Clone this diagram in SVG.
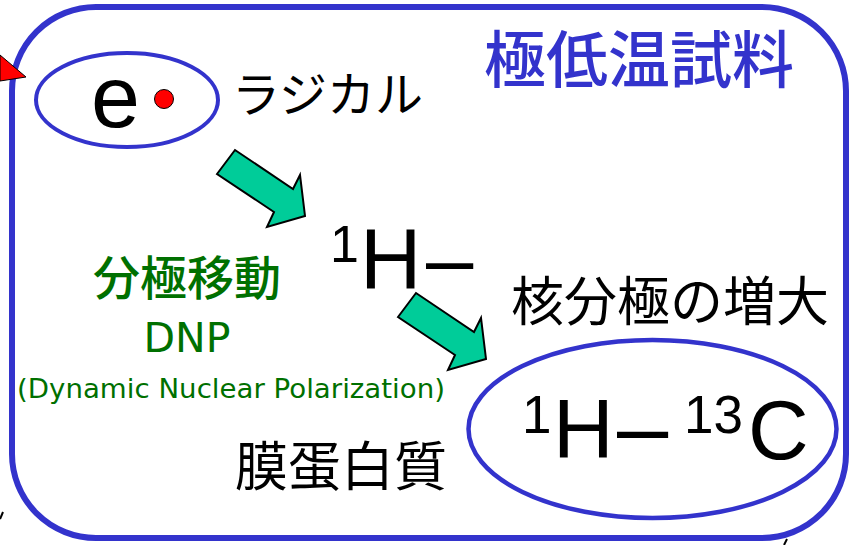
<svg xmlns="http://www.w3.org/2000/svg" width="849" height="545" viewBox="0 0 849 545">
<style>
.blue{fill:none;stroke:#3333CC}
.cjk{font-family:"Noto Sans CJK JP","Noto Sans CJK SC",sans-serif}
.lat{font-family:"Liberation Sans",Arial,sans-serif;fill:#000}
.grn{fill:#007000}
.arrow{fill:#00CC99;stroke:#000;stroke-width:2;stroke-linejoin:miter}
</style>
<defs>
<polygon id="arr" class="arrow" points="217,174 235,150 293,189 300,175 305,216 267,227 274,212"/>
</defs>
<rect width="849" height="545" fill="#fff"/>
<g id="sample">
<rect class="blue" x="12" y="7" width="834" height="531" rx="84" ry="84" stroke-width="6"/>
<text class="cjk" x="484" y="83" font-size="62" font-weight="500" fill="#3333CC">極低温試料</text>
</g>
<g id="radical">
<ellipse class="blue" cx="127" cy="100" rx="91" ry="47" stroke-width="4"/>
<text class="lat" x="91" y="127" font-size="88">e</text>
<circle cx="164" cy="99" r="9.5" fill="#FF0000" stroke="#000" stroke-width="1"/>
<text class="cjk" x="232" y="112" font-size="48" fill="#000">ラジカル</text>
</g>
<g id="h1">
<text class="lat" font-size="85"><tspan x="330" y="262" font-size="52">1</tspan><tspan x="360" y="288">H</tspan><tspan x="426" y="288">–</tspan></text>
</g>
<g id="dnp">
<text class="cjk grn" x="187" y="295" font-size="47" font-weight="500" text-anchor="middle">分極移動</text>
<text font-family="'DejaVu Sans',Verdana,sans-serif" class="grn" x="187" y="352" font-size="41" text-anchor="middle">DNP</text>
<text font-family="'DejaVu Sans',Verdana,sans-serif" class="grn" x="17" y="398" font-size="26" textLength="428" lengthAdjust="spacingAndGlyphs">(Dynamic Nuclear Polarization)</text>
</g>
<g id="enhance">
<text class="cjk" x="511" y="321" font-size="53" fill="#000">核分極の増大</text>
</g>
<g id="h13c">
<ellipse class="blue" cx="652.5" cy="429" rx="184" ry="89" stroke-width="4.5"/>
<text class="lat" font-size="84"><tspan x="522" y="433" font-size="53">1</tspan><tspan x="553" y="458">H</tspan><tspan x="617" y="458" font-size="92">–</tspan><tspan x="684" y="433" font-size="53">13</tspan><tspan x="748" y="459">C</tspan></text>
</g>
<g id="protein">
<text class="cjk" x="235" y="486" font-size="53" fill="#000">膜蛋白質</text>
</g>
<g id="connectors">
<use href="#arr"/>
<use href="#arr" transform="translate(181,143)"/>
<polygon points="0,55 26,77 0,81" fill="#FF0000" stroke="#000" stroke-width="1"/>
<path d="M0,519 L3,512" stroke="#000" stroke-width="2"/>
<path d="M784,545 L787,539" stroke="#000" stroke-width="2"/>
</g>
</svg>
